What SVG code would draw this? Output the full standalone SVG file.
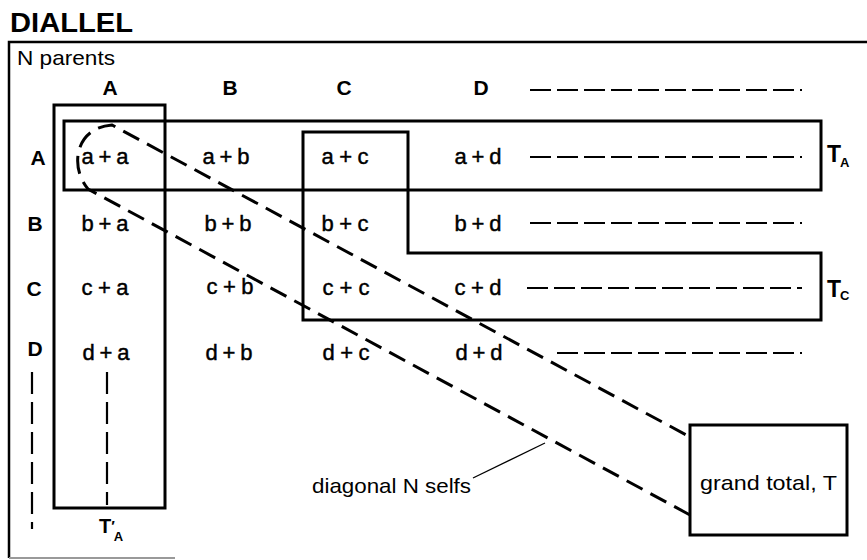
<svg xmlns="http://www.w3.org/2000/svg" width="867" height="560" viewBox="0 0 867 560">
  <style>
    .box { fill: none; stroke: #000; stroke-width: 3; }
    .frame { fill: none; stroke: #000; stroke-width: 2.5; }
    .lbl { font-family: "Liberation Sans", Arial, "DejaVu Sans", sans-serif; font-weight: bold; fill: #000; }
    .cell { font-family: "Liberation Sans", Arial, sans-serif; font-size: 22px; fill: #000; stroke: #000; stroke-width: 0.45; text-anchor: middle; }
    .txt { font-family: "Liberation Sans", Arial, sans-serif; fill: #000; }
    .cont { stroke: #000; stroke-width: 2.2; stroke-dasharray: 21 6; fill: none; }
    .vcont { stroke: #000; stroke-width: 2.2; stroke-dasharray: 22 8; fill: none; }
    .diag { stroke: #000; stroke-width: 3; stroke-dasharray: 18 9; fill: none; }
  </style>
  <rect width="867" height="560" fill="#fff"/>

  <!-- title and frame -->
  <text class="lbl" x="10" y="32" font-size="28" textLength="123" lengthAdjust="spacingAndGlyphs">DIALLEL</text>
  <path class="frame" d="M870,42 H9 V558"/>
  <line x1="9" y1="558" x2="175" y2="558" stroke="#999" stroke-width="2"/>
  <text class="txt" x="17" y="65" font-size="21" textLength="98" lengthAdjust="spacingAndGlyphs">N parents</text>

  <!-- column headers -->
  <g id="col-headers" class="lbl" font-size="21" text-anchor="middle">
    <text x="110" y="95">A</text>
    <text x="230" y="95">B</text>
    <text x="344" y="95">C</text>
    <text x="481" y="95">D</text>
  </g>
  <!-- row headers -->
  <g id="row-headers" class="lbl" font-size="21" text-anchor="middle">
    <text x="38" y="165">A</text>
    <text x="35" y="231">B</text>
    <text x="34" y="296">C</text>
    <text x="35" y="356">D</text>
  </g>

  <!-- cross table -->
  <g id="cells">
    <text class="cell" x="105" y="164" textLength="47">a + a</text>
    <text class="cell" x="226" y="164" textLength="47">a + b</text>
    <text class="cell" x="345" y="164" textLength="47">a + c</text>
    <text class="cell" x="478" y="164" textLength="47">a + d</text>

    <text class="cell" x="105" y="231" textLength="47">b + a</text>
    <text class="cell" x="228" y="231" textLength="47">b + b</text>
    <text class="cell" x="345" y="231" textLength="47">b + c</text>
    <text class="cell" x="478" y="231" textLength="47">b + d</text>

    <text class="cell" x="105" y="295" textLength="47">c + a</text>
    <text class="cell" x="230" y="294" textLength="47">c + b</text>
    <text class="cell" x="346" y="295" textLength="47">c + c</text>
    <text class="cell" x="478" y="295" textLength="47">c + d</text>

    <text class="cell" x="106" y="360" textLength="47">d + a</text>
    <text class="cell" x="229" y="360" textLength="47">d + b</text>
    <text class="cell" x="346" y="360" textLength="47">d + c</text>
    <text class="cell" x="479" y="360" textLength="47">d + d</text>
  </g>

  <!-- continuation dashes -->
  <g id="continuations">
    <line class="cont" x1="530" y1="90" x2="802" y2="90"/>
    <line class="cont" x1="530" y1="157" x2="802" y2="157"/>
    <line class="cont" x1="530" y1="223" x2="802" y2="223"/>
    <line class="cont" x1="527" y1="288" x2="802" y2="288"/>
    <line class="cont" x1="557" y1="353" x2="802" y2="353"/>
    <line class="vcont" x1="32" y1="372" x2="32" y2="529"/>
    <line class="vcont" x1="107" y1="372" x2="107" y2="505"/>
  </g>

  <!-- totals -->
  <g id="col-total-A">
    <rect class="box" x="54" y="105" width="111" height="403"/>
    <text class="lbl" x="99" y="533" font-size="20">T<tspan font-size="15" dy="-2">′</tspan><tspan font-size="13" dx="-1" dy="10">A</tspan></text>
  </g>
  <g id="row-total-A">
    <rect class="box" x="64" y="121" width="757" height="69"/>
    <text class="lbl" x="827" y="162" font-size="23">T<tspan font-size="13" dx="-1" dy="5">A</tspan></text>
  </g>
  <g id="total-C">
    <path class="box" d="M303,132 H408 V253 H821 V320 H303 Z"/>
    <text class="lbl" x="827" y="297" font-size="23">T<tspan font-size="13" dx="-1" dy="3">C</tspan></text>
  </g>
  <g id="grand-total">
    <rect class="box" x="690" y="425" width="157" height="110"/>
    <text class="txt" x="700" y="490" font-size="21" textLength="137" lengthAdjust="spacingAndGlyphs">grand total, T</text>
  </g>

  <!-- connectors -->
  <g id="connectors">
    <path class="diag" d="M690,515 L88,189 C70,168 74,128 112,125 L690,437"/>
    <line x1="473" y1="478" x2="545" y2="443" stroke="#000" stroke-width="1.3"/>
    <text class="txt" x="312" y="493" font-size="21" textLength="159" lengthAdjust="spacingAndGlyphs">diagonal N selfs</text>
  </g>
</svg>
